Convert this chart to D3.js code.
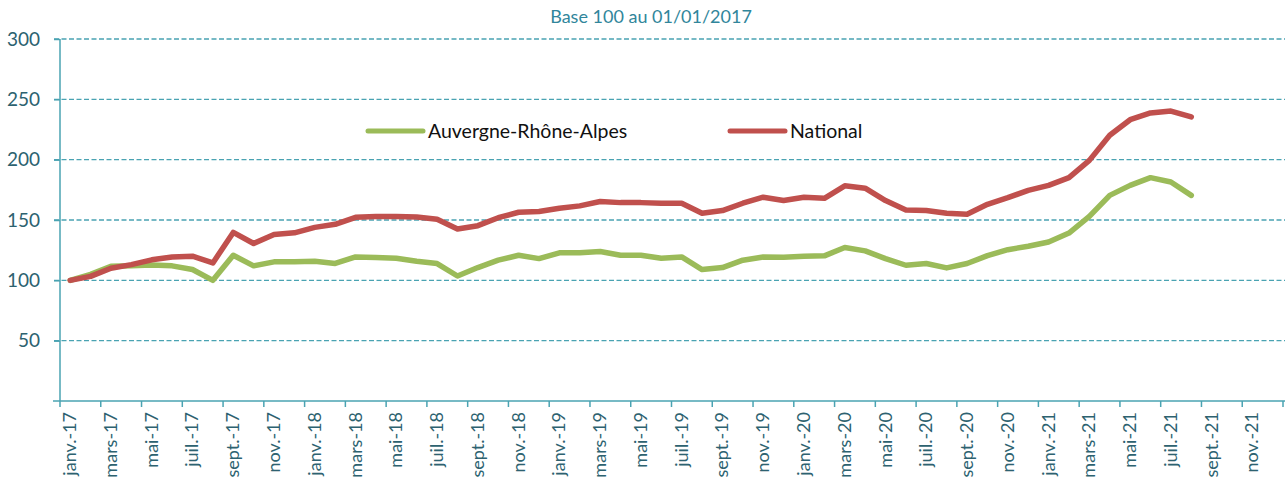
<!DOCTYPE html>
<html>
<head>
<meta charset="utf-8">
<script src="https://cdn.jsdelivr.net/npm/d3@7"></script>
<style>
  body { margin: 0; background: #fff; }
  svg { display: block; font-family: Lato, "Open Sans", sans-serif; }
</style>
</head>
<body>
<div id="chart"></div>
<script>
// month categories, janv.-17 .. déc.-21
const monthNames = ["janv.", "févr.", "mars", "avr.", "mai", "juin", "juil.", "août", "sept.", "oct.", "nov.", "déc."];
const years = ["17", "18", "19", "20", "21"];
const months = [];
years.forEach(y => monthNames.forEach(m => months.push(m + "-" + y)));

// Base 100 au 01/01/2017
const araValues = [100, 105, 111.7, 112, 112.8, 112, 109, 100, 120.8, 112, 115.3, 115.3,
  115.8, 114, 119.4, 118.9, 118.3, 115.8, 113.9, 103.6, 110.6, 116.7, 120.8, 118,
  122.8, 122.8, 123.9, 120.8, 120.8, 118.3, 119.4, 108.9, 110.6, 116.7, 119.4, 119.2,
  120, 120.3, 127.2, 124.4, 118, 112.5, 113.9, 110.3, 113.9, 120.5, 125.4, 128.2,
  131.8, 139.2, 153, 170.4, 178.7, 185.1, 181.5, 170.4];
const natValues = [100, 103.3, 110, 113, 117, 119.4, 120, 114.4, 139.7, 130.5, 138, 139.4,
  143.9, 146.4, 152.2, 152.8, 152.8, 152.5, 150.6, 142.5, 145.3, 151.9, 156.4, 157,
  159.7, 161.7, 165.3, 164.4, 164.4, 163.9, 163.9, 155.6, 157.8, 163.9, 168.9, 166.1,
  168.9, 168, 178.3, 176.4, 166.1, 158.3, 157.8, 155.6, 154.7, 163, 168.5, 174.6,
  178.7, 185.1, 199.4, 220.2, 233.1, 238.7, 240.3, 235.4];
const yTicks = [50, 100, 150, 200, 250, 300];

const series = [
  { name: "Auvergne-Rhône-Alpes", values: araValues, color: "#9bbb59" },
  { name: "National", values: natValues, color: "#c0504d" }
];

const W = 1285, H = 486;
const margin = { left: 60, right: 1283, top: 39, bottom: 401 };
const axisColor = "#4aa3b2", textColor = "#2d6270";

const svg = d3.select("#chart").append("svg")
  .attr("width", W).attr("height", H);

const x = d3.scaleBand().domain(months).range([margin.left, margin.right]).padding(0);
const y = d3.scaleLinear().domain([0, 300]).range([margin.bottom, margin.top]);

// title
svg.append("text")
  .attr("x", 651).attr("y", 23)
  .attr("text-anchor", "middle")
  .style("font-size", "18px")
  .style("fill", "#31869b")
  .text("Base 100 au 01/01/2017");

// gridlines
svg.append("g").selectAll("line").data(yTicks).join("line")
  .attr("x1", margin.left - 6).attr("x2", W)
  .attr("y1", d => y(d)).attr("y2", d => y(d))
  .attr("stroke", axisColor).attr("stroke-width", 1.3)
  .attr("stroke-dasharray", "5,2.5");

// y axis
const yAxis = svg.append("g")
  .attr("transform", `translate(${margin.left},0)`)
  .call(d3.axisLeft(y).tickValues(yTicks).tickSize(6).tickPadding(14));
yAxis.select(".domain").attr("stroke", axisColor).attr("stroke-width", 1.5)
  .attr("d", `M0,${margin.top}V${margin.bottom}`);
yAxis.selectAll(".tick line").attr("stroke", axisColor).attr("stroke-width", 1.5);
yAxis.selectAll("text").style("font-size", "19px").style("fill", textColor)
  .style("font-family", "Lato, sans-serif");

// x axis line
svg.append("line")
  .attr("x1", margin.left - 7).attr("x2", W)
  .attr("y1", margin.bottom).attr("y2", margin.bottom)
  .attr("stroke", axisColor).attr("stroke-width", 1.5);

// x ticks at every second month boundary
const tickMonths = months.filter((d, i) => i % 2 === 0);
svg.append("g").selectAll("line").data(tickMonths.concat(["end"])).join("line")
  .attr("x1", d => d === "end" ? margin.right : x(d))
  .attr("x2", d => d === "end" ? margin.right : x(d))
  .attr("y1", margin.bottom).attr("y2", margin.bottom + 6)
  .attr("stroke", axisColor).attr("stroke-width", 1.5);

// x labels
svg.append("g").selectAll("text").data(tickMonths).join("text")
  .attr("transform", d => `translate(${x(d) + x.bandwidth() / 2 + 6},${margin.bottom + 11}) rotate(-90)`)
  .attr("text-anchor", "end")
  .style("font-size", "18px")
  .style("fill", textColor)
  .text(d => d);

// lines
const line = d3.line()
  .x((d, i) => x(months[i]) + x.bandwidth() / 2)
  .y(d => y(d));

svg.append("g").selectAll("path").data(series).join("path")
  .attr("d", d => line(d.values))
  .attr("fill", "none")
  .attr("stroke", d => d.color)
  .attr("stroke-width", 5.5)
  .attr("stroke-linejoin", "round")
  .attr("stroke-linecap", "round");

// legend
const legendPos = [368, 730];
const legend = svg.append("g").selectAll("g").data(series).join("g")
  .attr("transform", (d, i) => `translate(${legendPos[i]},131)`);
legend.append("line")
  .attr("x1", 0).attr("x2", 55)
  .attr("stroke", d => d.color).attr("stroke-width", 5)
  .attr("stroke-linecap", "round");
legend.append("text")
  .attr("x", 60).attr("y", 7)
  .style("font-size", "19.5px")
  .style("fill", "#111")
  .text(d => d.name);
</script>
</body>
</html>
